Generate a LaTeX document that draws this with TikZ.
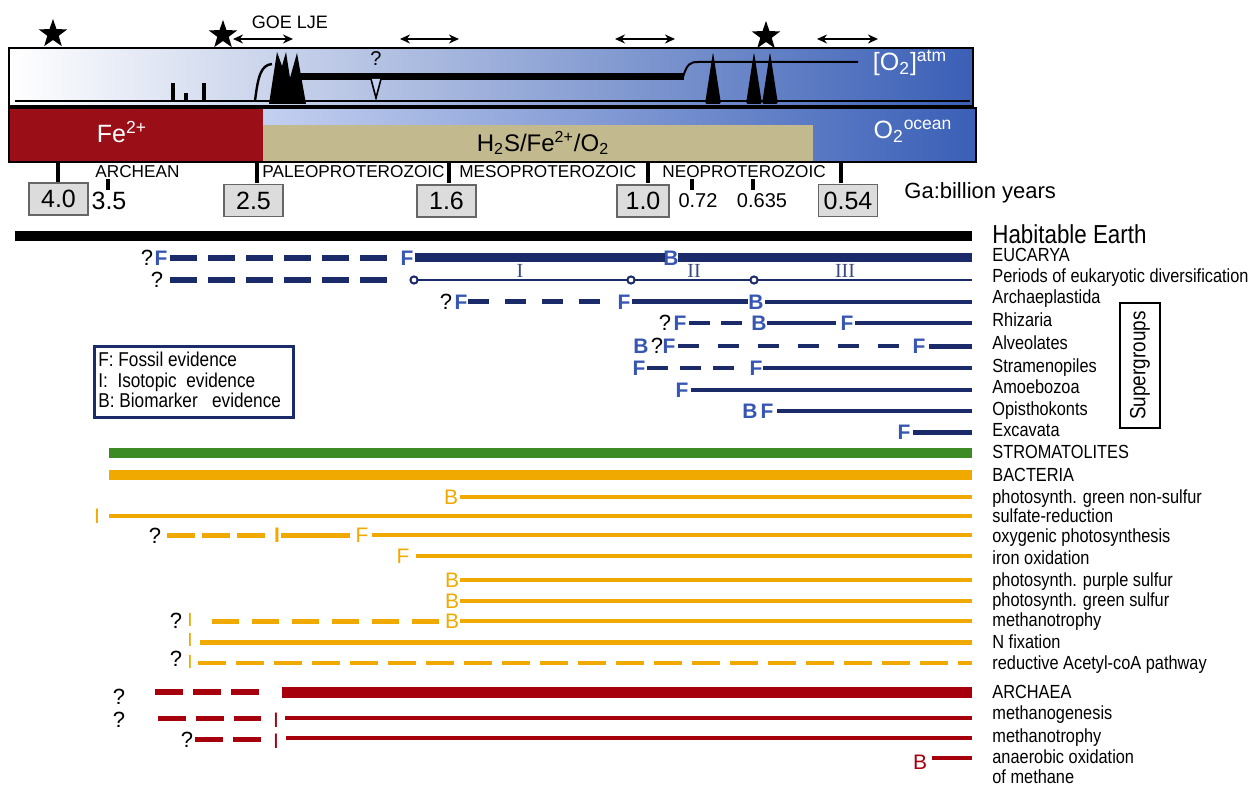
\documentclass[tikz,border=0pt]{standalone}
\usepackage{fontspec}
\setmainfont{Liberation Sans}
\newfontfamily\narrowsf[FakeStretch=0.86]{Liberation Sans}
\newfontfamily\romsf{Liberation Serif}
\usetikzlibrary{shapes.geometric, arrows.meta}

\definecolor{navy}{HTML}{1B2A68}
\definecolor{eviblue}{HTML}{3656B2}
\definecolor{oxblue}{HTML}{3A5FB6}
\definecolor{paleblue}{HTML}{C4D0F0}
\definecolor{ferred}{HTML}{9A0E18}
\definecolor{tanbox}{HTML}{C2B98E}
\definecolor{boxgray}{HTML}{DCDCDC}
\definecolor{stromgreen}{HTML}{3D8B24}
\definecolor{bactorange}{HTML}{EFA900}
\definecolor{archred}{HTML}{A5000C}

\tikzset{
  lab/.style={anchor=west, inner sep=0pt, text height=7pt, text depth=2pt, font=\narrowsf\fontsize{9.5}{10}\selectfont},
  evi/.style={inner sep=0pt, font=\bfseries\fontsize{10.5}{11}\selectfont, text=eviblue},
  evo/.style={inner sep=0pt, font=\fontsize{10.5}{11}\selectfont, text=bactorange},
  evr/.style={inner sep=0pt, font=\fontsize{10.5}{11}\selectfont, text=archred},
  isot/.style={evo, font=\fontsize{9.5}{10}\selectfont},
  qm/.style={inner sep=0pt, font=\fontsize{11}{12}\selectfont},
  roman/.style={inner sep=0pt, font=\romsf\fontsize{10}{11}\selectfont, text=navy!85},
  dsh/.style={dash pattern=on 13.5pt off 5.5pt},
  bigstar/.style={star, star points=5, star point ratio=2.5, fill=black, inner sep=0pt, minimum size=15pt},
  span/.style={line width=0.9pt, {Stealth[length=5pt,width=4.5pt]}-{Stealth[length=5pt,width=4.5pt]}},
  ticky/.style={line width=2pt},
  agebox/.style={draw=black!60, fill=boxgray, line width=0.6pt, minimum width=29.5pt, minimum height=16pt, inner sep=0pt, font=\fontsize{12.5}{13}\selectfont},
  per/.style={anchor=west, inner sep=0pt, font=\fontsize{8.6}{9}\selectfont},
  eu/.style={navy, line width=2pt},
  ba/.style={bactorange, line width=1.8pt},
  ar/.style={archred, line width=1.7pt},
  peri/.style={navy, fill=white, line width=1pt},
}

\begin{document}
\begin{tikzpicture}[x=0.5pt, y=-0.5pt]
\useasboundingbox (0,0) rectangle (1258,786);

% stars and time spans
\node[bigstar] (st1) at (53,34) {};
\node[bigstar] (st2) at (223,35) {};
\node[bigstar] (st3) at (766,36) {};
\node[inner sep=0pt, font=\fontsize{9}{10}\selectfont] (goe) at (290,22) {GOE LJE};
\foreach \xa/\xb [count=\i] in {233/293, 400/459, 615/675, 817/878}{
  \coordinate (al\i) at (\xa,39);
  \coordinate (ar\i) at (\xb,39);
  \draw[span] (al\i) -- (ar\i);
}

% atmosphere box
\shadedraw[left color=white, right color=oxblue, line width=0.8pt] (9,48) rectangle (973,106);
\draw[line width=0.7pt] (15,101) -- (970,101);
\draw[line width=2pt] (173,83) -- (173,101) (186,93) -- (186,101) (204,83) -- (204,101);
\draw[line width=1.2pt] (255,101) .. controls (258,76) and (261,65) .. (272,64);
\fill (269,104) -- (277,52) -- (282,66) -- (286,52) -- (290,78) -- (297,53) -- (306,104) -- cycle;
\draw[line width=3.5pt] (298,77) -- (684,77);
\draw[line width=1pt] (683,77) .. controls (687,64) and (690,62) .. (698,62) -- (858,62);
\filldraw[fill=paleblue, line width=0.8pt] (371,79) -- (376,98) -- (381,79);
\node[qm, font=\fontsize{10}{11}\selectfont] (dipq) at (376,59) {?};
\fill[rounded corners=0.8pt] (705,104) -- (713,52) -- (721,104) -- cycle;
\fill[rounded corners=0.8pt] (746,104) -- (754,52) -- (762,104) -- cycle;
\fill[rounded corners=0.8pt] (762,104) -- (770,52) -- (778,104) -- cycle;
\node[text=white, inner sep=0pt, font=\fontsize{12.5}{13}\selectfont] (o2atm) at (910,63) {[O\textsubscript{2}]\textsuperscript{atm}};

% ocean box
\shade[left color=paleblue, right color=oxblue] (263,108) rectangle (976,162);
\fill[ferred] (9,108) rectangle (263,162);
\fill[tanbox] (263,125) rectangle (813,161);
\draw[line width=0.8pt] (9,108) rectangle (976,162);
\node[text=white, inner sep=0pt, font=\fontsize{12.5}{13}\selectfont] (fe) at (122,132) {Fe\textsuperscript{2+}};
\node[inner sep=0pt, font=\fontsize{12}{13}\selectfont] (mix) at (543,143) {H\textsubscript{2}S/Fe\textsuperscript{2+}/O\textsubscript{2}};
\node[text=white, inner sep=0pt, font=\fontsize{12.5}{13}\selectfont] (o2oc) at (913,131) {O\textsubscript{2}\textsuperscript{ocean}};

% eons and ages
\foreach \xx in {58,257,449,648,841} \draw[ticky] (\xx,162) -- (\xx,183);
\foreach \xx in {108,692,753} \draw[ticky] (\xx,179) -- (\xx,190);
\node[per] (archean) at (95,172) {ARCHEAN};
\node[per] (paleo) at (262,172) {PALEOPROTEROZOIC};
\node[per] (meso) at (459,172) {MESOPROTEROZOIC};
\node[per] (neo) at (662,172) {NEOPROTEROZOIC};
\node[agebox] (age40) at (58.5,199) {4.0};
\node[agebox] (age25) at (253.5,200.5) {2.5};
\node[agebox] (age16) at (446.5,201) {1.6};
\node[agebox, minimum width=26pt] (age10) at (643,201) {1.0};
\node[agebox] (age054) at (848,200.5) {0.54};
\node[inner sep=0pt, font=\fontsize{12.5}{13}\selectfont] (age35) at (109,201) {3.5};
\node[inner sep=0pt, font=\fontsize{10}{11}\selectfont] (age072) at (698,201) {0.72};
\node[inner sep=0pt, font=\fontsize{10}{11}\selectfont] (age0635) at (762,201) {0.635};
\node[anchor=west, inner sep=0pt, font=\fontsize{11}{12}\selectfont] (ga) at (904,193) {Ga:billion years};

% labels on the right
\node[lab, text height=9.5pt, text depth=3pt, font=\narrowsf\fontsize{13}{14}\selectfont] (habitable) at (992,237) {Habitable Earth};
\foreach \nm/\yy/\txt in {eucarya/257/EUCARYA, periods/278/Periods of eukaryotic diversification,
  archaep/299/Archaeplastida, rhizaria/322/Rhizaria, alveol/345/Alveolates, stramen/367/Stramenopiles,
  amoebo/388/Amoebozoa, opistho/410/Opisthokonts, excav/431/Excavata, strom/453/STROMATOLITES,
  bacteria/476/BACTERIA, gns/498/photosynth. green non-sulfur, sulfred/517/sulfate-reduction,
  oxyph/537/oxygenic photosynthesis, ironox/559/iron oxidation, purple/581/photosynth. purple sulfur,
  greens/601/photosynth. green sulfur, methbac/621/methanotrophy, nfix/643/N fixation,
  acetyl/664/reductive Acetyl-coA pathway, archaea/693/ARCHAEA, methgen/714/methanogenesis,
  metharc/737/methanotrophy, anaer/758/anaerobic oxidation, anaer2/778/of methane}
  \node[lab] (\nm) at (992,\yy) {\txt};
\node[draw, line width=0.6pt, rotate=90, minimum width=62.5pt, minimum height=20pt, inner sep=0pt, font=\narrowsf\fontsize{11}{12}\selectfont] (super) at (1140,365.5) {Supergroups};

% legend
\draw[navy, line width=1.5pt] (94,346) rectangle (293,417);
\node[lab, font=\narrowsf\fontsize{10}{11}\selectfont] (leg1) at (98,361) {F: Fossil evidence};
\node[lab, font=\narrowsf\fontsize{10}{11}\selectfont] (leg2) at (98,382) {I:\ \ Isotopic\ \ evidence};
\node[lab, font=\narrowsf\fontsize{10}{11}\selectfont] (leg3) at (98,402) {B: Biomarker\ \ \ evidence};

% habitable earth
\draw[line width=5pt] (15,236) -- (972,236);

% eucarya
\node[qm] (euq) at (147,258) {?};
\node[evi] (euF1) at (161,258) {F};
\node[evi] (euF2) at (407,258) {F};
\node[evi] (euB) at (671,258) {B};
\draw[eu, line width=3pt, dsh] (170,258) -- (389,258);
\draw[eu, line width=4.5pt] (415,258) -- (665,258);
\draw[eu, line width=4.5pt] (678,258) -- (972,258);
% periods of diversification
\node[qm] (perq) at (157,280) {?};
\draw[eu, line width=3pt, dsh] (170,280) -- (389,280);
\draw[eu, line width=1pt] (414,280) -- (972,280);
\foreach \xx in {414,631,754} \filldraw[peri] (\xx,280) circle[radius=1.8pt];
\node[roman] (perI) at (520,271) {I};
\node[roman] (perII) at (694,271) {II};
\node[roman] (perIII) at (845,271) {III};
% archaeplastida
\node[qm] (apq) at (446,302) {?};
\node[evi] (apF1) at (461,302) {F};
\node[evi] (apF2) at (624,302) {F};
\node[evi] (apB) at (756,302) {B};
\draw[eu, line width=2.5pt, dash pattern=on 10.5pt off 8pt] (468,302) -- (600,302);
\draw[eu, line width=2.5pt] (632,302) -- (748,302);
\draw[eu, line width=1.8pt] (765,302) -- (972,302);
% rhizaria
\node[qm] (rhq) at (665,323) {?};
\node[evi] (rhF1) at (680,323) {F};
\node[evi] (rhB) at (759,323) {B};
\node[evi] (rhF2) at (847,323) {F};
\draw[eu, dash pattern=on 10.5pt off 5.5pt] (689,323) -- (742,323);
\draw[eu] (767,323) -- (836,323);
\draw[eu] (855,323) -- (972,323);
% alveolates
\node[evi] (alB) at (641,346) {B};
\node[qm] (alq) at (657,346) {?};
\node[evi] (alF1) at (669,346) {F};
\node[evi] (alF2) at (919,346) {F};
\draw[eu, line width=2.2pt, dash pattern=on 10.5pt off 9.5pt] (678,346) -- (899,346);
\draw[eu, line width=2.5pt] (929,346) -- (972,346);
% stramenopiles
\node[evi] (stF1) at (639,368) {F};
\node[evi] (stF2) at (756,368) {F};
\draw[eu, dash pattern=on 10.5pt off 6pt] (647,368) -- (745,368);
\draw[eu] (763,368) -- (972,368);
% amoebozoa, opisthokonts, excavata
\node[evi] (amF) at (682,390) {F};
\draw[eu, line width=1.6pt] (691,390) -- (972,390);
\node[evi] (opB) at (750,411) {B};
\node[evi] (opF) at (767,411) {F};
\draw[eu, line width=1.8pt] (777,411) -- (972,411);
\node[evi] (exF) at (904,432) {F};
\draw[eu, line width=2.5pt] (913,432) -- (972,432);

% stromatolites and bacteria
\draw[stromgreen, line width=5pt] (109,453) -- (972,453);
\draw[bactorange, line width=5pt] (109,475) -- (972,475);
\node[evo] (gnsB) at (451,497) {B};
\draw[ba] (460,497) -- (972,497);
\node[evo] (sulI) at (97,516) {I};
\draw[ba] (109,516) -- (972,516);
\node[qm] (oxq) at (155,536) {?};
\draw[ba, line width=2.5pt, dash pattern=on 14pt off 3.5pt] (167,535) -- (265,535);
\node[evo, font=\bfseries\fontsize{10.5}{11}\selectfont] (oxI) at (277,535) {I};
\draw[ba, line width=2.5pt] (281,535) -- (350,535);
\node[evo] (oxF) at (362,535) {F};
\draw[ba] (372,535) -- (972,535);
\node[evo] (irF) at (403,556) {F};
\draw[ba] (416,556) -- (972,556);
\node[evo] (puB) at (452,580) {B};
\draw[ba] (460,580) -- (972,580);
\node[evo] (grB) at (452,601) {B};
\draw[ba] (460,601) -- (972,601);
\node[qm] (mtq) at (176,621) {?};
\node[isot] (mtI) at (190,620) {I};
\draw[ba, line width=2.5pt, dash pattern=on 13.5pt off 6.5pt] (212,621) -- (439,621);
\node[evo] (mtB) at (452,621) {B};
\draw[ba] (460,621) -- (972,621);
\node[isot] (nfI) at (190,640) {I};
\draw[ba, line width=2.5pt] (200,642) -- (972,642);
\node[qm] (acq) at (176,659) {?};
\node[isot] (acI) at (190,662) {I};
\draw[ba, line width=2pt, dash pattern=on 14pt off 5pt] (198,663) -- (972,663);

% archaea
\node[qm] (arq) at (119,697) {?};
\draw[ar, line width=2.8pt, dash pattern=on 14pt off 5pt] (155,692) -- (261,692);
\draw[ar, line width=5.5pt] (282,692) -- (972,692);
\node[qm] (mgq) at (119,720) {?};
\draw[ar, line width=2.5pt, dash pattern=on 14pt off 5pt] (158,718) -- (261,718);
\node[evr] (mgI) at (276,720) {I};
\draw[ar] (285,718) -- (972,718);
\node[qm] (maq) at (187,740) {?};
\draw[ar, line width=2.5pt, dash pattern=on 14pt off 5pt] (195,739) -- (261,739);
\node[evr] (maI) at (276,741) {I};
\draw[ar] (286,738) -- (972,738);
\node[evr] (anB) at (920,762) {B};
\draw[ar, line width=2pt] (932,758) -- (972,758);
\end{tikzpicture}
\end{document}
